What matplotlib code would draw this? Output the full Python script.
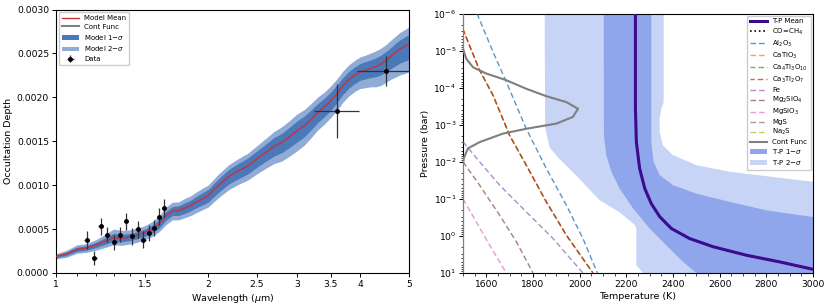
import numpy as np
import matplotlib
matplotlib.use("Agg")
import matplotlib.pyplot as plt
from matplotlib.ticker import (FixedLocator, FixedFormatter, MultipleLocator,
                               FormatStrFormatter, LogLocator, NullFormatter)

# ---------------- Left panel: spectrum ----------------
wl = [1.00, 1.05, 1.10, 1.15, 1.20, 1.25, 1.30, 1.35, 1.40, 1.45, 1.50, 1.55,
      1.60, 1.65, 1.70, 1.75, 1.80, 1.85, 1.90, 1.95, 2.00, 2.10, 2.20, 2.30,
      2.40, 2.50, 2.60, 2.70, 2.80, 2.90, 3.00, 3.10, 3.20, 3.30, 3.40, 3.50,
      3.60, 3.70, 3.80, 3.90, 4.00, 4.10, 4.20, 4.30, 4.40, 4.50, 4.60, 4.70,
      4.80, 4.90, 5.00]
# model mean (units of 1e-4)
model_mean = [1.89, 2.20, 2.70, 2.85, 3.20, 3.60, 4.00, 3.95, 4.10, 4.30, 4.60, 5.00,
              5.60, 6.50, 7.05, 7.10, 7.40, 7.70, 8.10, 8.45, 8.80, 10.0, 11.0, 11.65,
              12.2, 13.0, 13.7, 14.4, 14.85, 15.5, 16.2, 16.75, 17.5, 18.3, 18.9, 19.6,
              20.4, 21.3, 22.0, 22.5, 22.9, 23.1, 23.3, 23.5, 23.8, 24.2, 24.65, 25.1,
              25.5, 25.8, 26.1]
s1_up = [0.15, 0.2, 0.25, 0.25, 0.3, 0.4, 0.5, 0.45, 0.4, 0.4, 0.4, 0.45,
         0.5, 0.5, 0.5, 0.55, 0.6, 0.6, 0.65, 0.7, 0.7, 0.75, 0.8, 0.85,
         0.9, 0.9, 0.95, 1.0, 1.05, 1.1, 1.1, 1.1, 1.05, 1.0, 1.0, 1.0,
         1.0, 0.95, 0.95, 0.95, 0.95, 0.95, 0.95, 1.0, 1.0, 1.0, 1.0, 1.05,
         1.05, 1.06, 1.06]
s1_lo = [0.15, 0.2, 0.25, 0.25, 0.3, 0.35, 0.4, 0.4, 0.4, 0.4, 0.4, 0.45,
         0.5, 0.5, 0.5, 0.55, 0.6, 0.6, 0.65, 0.7, 0.75, 0.8, 0.85, 0.9,
         0.9, 0.95, 1.0, 1.1, 1.15, 1.2, 1.3, 1.25, 1.2, 1.15, 1.1, 1.1,
         1.0, 0.95, 0.95, 0.95, 0.95, 1.0, 1.05, 1.15, 1.25, 1.3, 1.4, 1.5,
         1.6, 1.7, 1.8]
s2_up = [0.3, 0.4, 0.5, 0.5, 0.6, 0.8, 1.0, 0.9, 0.8, 0.8, 0.8, 0.85,
         0.9, 1.0, 1.0, 1.0, 1.1, 1.1, 1.15, 1.2, 1.2, 1.3, 1.35, 1.4,
         1.45, 1.5, 1.6, 1.7, 1.8, 1.85, 1.9, 1.85, 1.8, 1.75, 1.7, 1.7,
         1.7, 1.7, 1.7, 1.7, 1.7, 1.7, 1.75, 1.8, 1.8, 1.8, 1.85, 1.85,
         1.9, 1.9, 1.9]
s2_lo = [0.3, 0.4, 0.45, 0.5, 0.6, 0.7, 0.8, 0.8, 0.8, 0.8, 0.8, 0.85,
         0.9, 1.0, 1.0, 1.05, 1.1, 1.15, 1.2, 1.25, 1.3, 1.4, 1.5, 1.55,
         1.6, 1.7, 1.8, 1.95, 2.1, 2.2, 2.3, 2.2, 2.1, 2.0, 1.95, 1.9,
         1.9, 1.85, 1.85, 1.85, 1.9, 2.0, 2.1, 2.3, 2.45, 2.5, 2.6, 2.8,
         2.95, 3.1, 3.2]

data_wl = [1.150, 1.191, 1.226, 1.264, 1.303, 1.339, 1.376, 1.414, 1.451,
           1.489, 1.526, 1.563, 1.602, 1.638, 3.606, 4.497]
data_wl_err = [0.015] * 14 + [0.37, 0.55]
data_depth = [3.78, 1.72, 5.30, 4.35, 3.52, 4.37, 5.90, 4.18, 5.00,
              3.80, 4.54, 5.11, 6.43, 7.38, 18.45, 23.0]
data_err = [1.0, 0.76, 1.0, 0.87, 0.85, 0.87, 0.95, 0.95, 0.97,
            0.95, 0.95, 0.95, 1.0, 1.0, 3.1, 1.7]

wl_major = [1, 1.5, 2, 2.5, 3, 3.5, 4, 5]
wl_major_labels = ["1", "1.5", "2", "2.5", "3", "3.5", "4", "5"]
wl_minor = [1.1, 1.2, 1.3, 1.4]

# ---------------- Right panel: T-P profile ----------------
tp_logp = [-6, -3.43, -2.53, -1.82, -1.28, -0.87, -0.52, -0.20, 0.07, 0.29, 0.52, 0.70, 0.90]
tp_mean_T = [2239, 2239, 2243, 2257, 2279, 2307, 2343, 2393, 2471, 2571, 2714, 2857, 3000]

s1_left_T = [2103, 2104, 2114, 2136, 2171, 2229, 2300, 2371, 2443, 2500]
s1_left_logp = [-6, -2.71, -2.18, -1.73, -1.28, -0.74, -0.20, 0.25, 0.70, 1.0]
s1_right_T = [2307, 2307, 2317, 2343, 2400, 2500, 2643, 2800, 3000, 3000]
s1_right_logp = [-6, -2.53, -2.0, -1.64, -1.37, -1.14, -0.92, -0.69, -0.51, 1.0]

s2_left_T = [1850, 1852, 1871, 1907, 1993, 2086, 2171, 2236, 2243, 2243, 2271]
s2_left_logp = [-6, -2.93, -2.39, -2.12, -1.58, -0.96, -0.64, -0.30, -0.20, 0.79, 1.0]
s2_right_T = [2360, 2360, 2350, 2343, 2343, 2357, 2400, 2500, 2643, 2829, 3000, 3000]
s2_right_logp = [-6, -3.61, -3.43, -3.16, -2.80, -2.44, -2.18, -1.91, -1.73, -1.59, -1.46, 1.0]

cf_T = [1500, 1500, 1514, 1543, 1600, 1686, 1771, 1857, 1943, 1993, 1971, 1900,
        1771, 1671, 1571, 1521, 1503, 1500, 1500]
cf_logp = [-6, -5.05, -4.78, -4.55, -4.38, -4.20, -3.97, -3.77, -3.61, -3.43, -3.21, -3.03,
           -2.89, -2.76, -2.53, -2.36, -2.09, -1.91, 1.0]

al2o3_T = [1560, 1629, 1686, 1771, 1857, 1943, 2014, 2076]
al2o3_logp = [-6, -4.96, -4.15, -2.89, -1.82, -0.83, 0.07, 1.0]
cati_T = [1500, 1571, 1629, 1700, 1771, 1857, 1943, 2057]
cati_logp = [-5.57, -4.47, -3.79, -2.71, -1.91, -0.92, -0.02, 1.0]
fe_T = [1500, 1571, 1657, 1771, 1886, 2014]
fe_logp = [-2.54, -2.0, -1.37, -0.65, 0.07, 1.0]
mg2sio4_T = [1500, 1571, 1657, 1729, 1800]
mg2sio4_logp = [-2.0, -1.37, -0.56, 0.16, 1.0]
mgsio3_T = [1500, 1557, 1614, 1686]
mgsio3_logp = [-1.0, -0.38, 0.25, 1.0]

species = [
    ("Al$_2$O$_3$", "#1f77b4", al2o3_T, al2o3_logp),
    ("CaTiO$_3$", "#ff7f0e", cati_T, cati_logp),
    ("Ca$_4$Ti$_3$O$_{10}$", "#2ca02c", cati_T, cati_logp),
    ("Ca$_3$Ti$_2$O$_7$", "#d62728", cati_T, cati_logp),
    ("Fe", "#9467bd", fe_T, fe_logp),
    ("Mg$_2$SiO$_4$", "#8c564b", mg2sio4_T, mg2sio4_logp),
    ("MgSiO$_3$", "#e377c2", mgsio3_T, mgsio3_logp),
    ("MgS", "#7f7f7f", [], []),
    ("Na$_2$S", "#bcbd22", [], []),
]
dash_offsets = [0, 0, 0.5, 1.0, 0, 0, 0, 0, 0]

# ---------------- Figure ----------------
plt.rcParams["font.family"] = ["DejaVu Sans"]
fig = plt.figure(figsize=(8.3, 3.08), dpi=100)
ax1 = fig.add_axes([56 / 830, 1 - 273 / 308, (409 - 56) / 830, (273 - 9.5) / 308])
ax2 = fig.add_axes([463 / 830, 1 - 273 / 308, (813 - 463) / 830, (273 - 13.5) / 308])

w = np.array(wl)
m = np.array(model_mean) * 1e-4
c1 = "#4a78b8"
c2 = "#90abd6"
ax1.fill_between(w, m - np.array(s2_lo) * 1e-4, m + np.array(s2_up) * 1e-4,
                 color=c2, lw=0, label="Model 2$-\\sigma$", zorder=1)
ax1.fill_between(w, m - np.array(s1_lo) * 1e-4, m + np.array(s1_up) * 1e-4,
                 color=c1, lw=0, label="Model 1$-\\sigma$", zorder=2)
ax1.plot(w, m, color="#c8303a", lw=1.0, label="Model Mean", zorder=3)
ax1.plot([], [], color="#7f7f7f", lw=1.5, label="Cont Func")
ax1.errorbar(data_wl, np.array(data_depth) * 1e-4, yerr=np.array(data_err) * 1e-4,
             xerr=data_wl_err, fmt="o", color="black", ms=2.5, ecolor="#333333",
             elinewidth=0.9, capsize=0, label="Data", zorder=4)

ax1.set_xscale("log")
ax1.set_xlim(1, 5)
ax1.set_ylim(0, 0.003)
ax1.xaxis.set_major_locator(FixedLocator(wl_major))
ax1.xaxis.set_major_formatter(FixedFormatter(wl_major_labels))
ax1.xaxis.set_minor_locator(FixedLocator(wl_minor))
ax1.xaxis.set_minor_formatter(NullFormatter())
ax1.yaxis.set_major_locator(MultipleLocator(0.0005))
ax1.yaxis.set_major_formatter(FormatStrFormatter("%.4f"))
ax1.set_xlabel("Wavelength ($\\mu$m)", fontsize=6.8, labelpad=2)
ax1.set_ylabel("Occultation Depth", fontsize=6.8, labelpad=3)
ax1.tick_params(labelsize=6.6, length=3, width=0.7, pad=2)
ax1.tick_params(which="minor", length=2, width=0.6)

h, l = ax1.get_legend_handles_labels()
order = ["Model Mean", "Cont Func", "Model 1$-\\sigma$", "Model 2$-\\sigma$", "Data"]
hd = dict(zip(l, h))
ax1.legend([hd[k] for k in order], order, loc="upper left", fontsize=5,
           handlelength=2.5, borderaxespad=0.4, labelspacing=0.4, framealpha=1,
           edgecolor="#cccccc")

# right panel
def P(lp):
    return 10.0 ** np.array(lp)

ax2.fill(list(s2_left_T) + list(s2_right_T)[::-1],
         list(P(s2_left_logp)) + list(P(s2_right_logp))[::-1],
         color="#c8d4f6", lw=0, zorder=1)
ax2.fill(list(s1_left_T) + list(s1_right_T)[::-1],
         list(P(s1_left_logp)) + list(P(s1_right_logp))[::-1],
         color="#8fa5ec", lw=0, zorder=2)
ax2.fill_between([], [], [], color="#8fa5ec", lw=0, label="T-P 1$-\\sigma$")
ax2.fill_between([], [], [], color="#c8d4f6", lw=0, label="T-P 2$-\\sigma$")

ax2.plot(tp_mean_T, P(tp_logp), color="#3c0a8c", lw=2.2, label="T-P Mean", zorder=5)
ax2.plot([], [], color="black", ls=":", lw=1.2, label="CO=CH$_4$")
for (name, col, T, lp), off in zip(species, dash_offsets):
    ax2.plot(T, P(lp) if len(lp) else [], color=col, ls=(off, (4, 2.2)), lw=1.0,
             alpha=0.75, label=name, zorder=4)
ax2.plot(cf_T, P(cf_logp), color="#7f7f7f", lw=1.5, label="Cont Func", zorder=4)

ax2.set_yscale("log")
ax2.set_xlim(1500, 3000)
ax2.set_ylim(10, 1e-6)
ax2.xaxis.set_major_locator(MultipleLocator(200))
ax2.xaxis.set_minor_locator(MultipleLocator(50))
ax2.yaxis.set_major_locator(LogLocator(base=10, numticks=20))
ax2.yaxis.set_minor_locator(LogLocator(base=10, subs=np.arange(2, 10), numticks=20))
ax2.yaxis.set_minor_formatter(NullFormatter())
ax2.set_xlabel("Temperature (K)", fontsize=6.8, labelpad=2)
ax2.set_ylabel("Pressure (bar)", fontsize=6.8, labelpad=2)
ax2.tick_params(labelsize=6.6, length=3, width=0.7, pad=2)
ax2.tick_params(which="minor", length=1.8, width=0.5)

h2, l2 = ax2.get_legend_handles_labels()
hd2 = dict(zip(l2, h2))
order2 = ["T-P Mean", "CO=CH$_4$"] + [s[0] for s in species] + \
         ["Cont Func", "T-P 1$-\\sigma$", "T-P 2$-\\sigma$"]
ax2.legend([hd2[k] for k in order2], order2, loc="upper right", fontsize=5,
           handlelength=2.5, borderaxespad=0.3, labelspacing=0.28, framealpha=1,
           edgecolor="#cccccc")

fig.savefig("out.png", dpi=100)
